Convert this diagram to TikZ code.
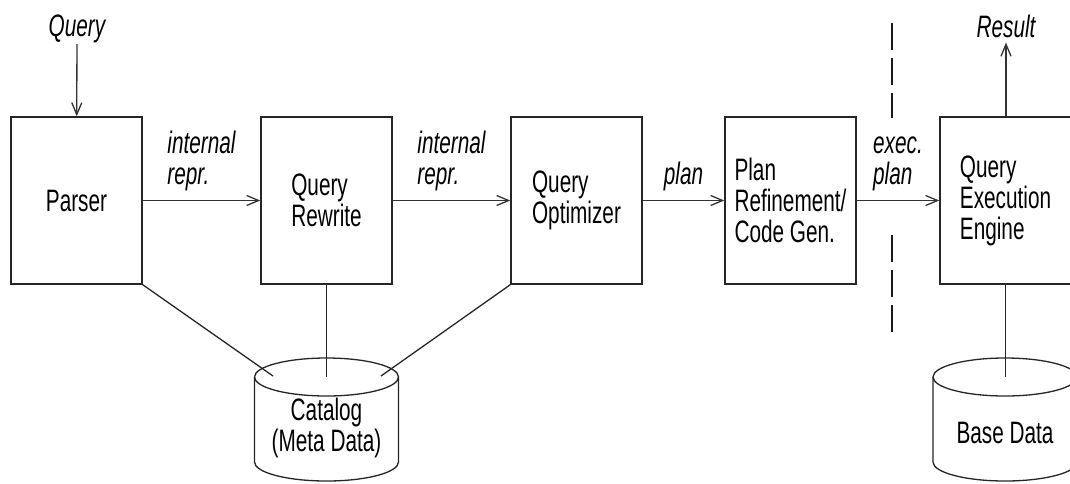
\documentclass[tikz,border=0pt]{standalone}
\usepackage{fontspec}
\setmainfont{Liberation Sans}[FakeStretch=0.67]
\usetikzlibrary{arrows.meta}
\newcommand\boxfont{\fontsize{31}{31}\selectfont}
\tikzset{
  stage/.style={draw=black!85, line width=1.4pt, minimum width=131pt,
    minimum height=167pt, align=left, inner sep=0pt, font=\boxfont},
  lbl/.style={align=left, inner sep=0pt, font=\boxfont\itshape},
  flow/.style={draw=black!80, line width=1.3pt,
    -{Straight Barb[length=12pt,width=10pt,line width=1.3pt]}},
  link/.style={draw=black!85, line width=1.3pt},
  cut/.style={draw=black!90, line width=1.3pt, dash pattern=on 27pt off 8pt},
  disk/.style={draw=black!85, line width=1.3pt},
}
\begin{document}
\begin{tikzpicture}[x=1pt,y=-1pt]
  \useasboundingbox (0,0) rectangle (1070,483);
  \clip (0,0) rectangle (1070,483);
  % pipeline stages
  \draw
    (76.5,200.5) node[stage] (parser) {Parser}
    (326.5,200.5) node[stage] (rewrite) {Query\\Rewrite}
    (576.5,200.5) node[stage] (optimizer) {Query\\Optimizer}
    (790.5,200.5) node[stage] (refine) {Plan\\Refinement/\\Code Gen.}
    (1005.5,200.5) node[stage] (engine) {Query\\Execution\\Engine};
  % inputs, outputs and labels
  \node[lbl] (query) at (77,29) {Query};
  \node[lbl] (result) at (1006,26) {Result};
  \node[lbl, anchor=south] (repr1) at (201.5,191) {internal\\repr.};
  \node[lbl, anchor=south] (repr2) at (451.5,191) {internal\\repr.};
  \node[lbl, anchor=south] (plan) at (683.5,191) {plan};
  \node[lbl, anchor=south] (exec) at (898,191) {exec.\\plan};
  % catalog and base data
  \draw[disk] (326.5,377) ellipse (72 and 19);
  \draw[disk] (254.5,377) -- (254.5,462) arc (180:0:72 and 19) -- (398.5,377);
  \node[font=\boxfont, align=center, inner sep=0pt] (catalog) at (326.5,428) {Catalog\\(Meta Data)};
  \draw[disk] (1005,377) ellipse (72 and 19);
  \draw[disk] (933,377) -- (933,462) arc (180:0:72 and 19) -- (1077,377);
  \node[font=\boxfont, inner sep=0pt] (basedata) at (1005,433) {Base Data};
  \coordinate (cat-l) at (273,376);
  \coordinate (cat-c) at (326.5,377);
  \coordinate (cat-r) at (381,376);
  \coordinate (base-c) at (1005.5,377);
  \coordinate (cut-a) at (892,23);
  \coordinate (cut-b) at (892,118);
  \coordinate (cut-c) at (892,235);
  \coordinate (cut-d) at (892,340);
  \begin{scope}[flow]
    \draw[shorten <=1pt] (query) to (parser);
    \draw (parser) to (rewrite);
    \draw (rewrite) to (optimizer);
    \draw (optimizer) to (refine);
    \draw (refine) to (engine);
    \draw[shorten >=5pt] (engine.north -| result) to (result);
  \end{scope}
  \begin{scope}[link]
    \draw (parser.south east) to (cat-l);
    \draw (rewrite.south) to (cat-c);
    \draw (optimizer.south west) to (cat-r);
    \draw (engine.south) to (base-c);
  \end{scope}
  \draw[cut] (cut-a) to (cut-b);
  \draw[cut] (cut-c) to (cut-d);
\end{tikzpicture}
\end{document}
